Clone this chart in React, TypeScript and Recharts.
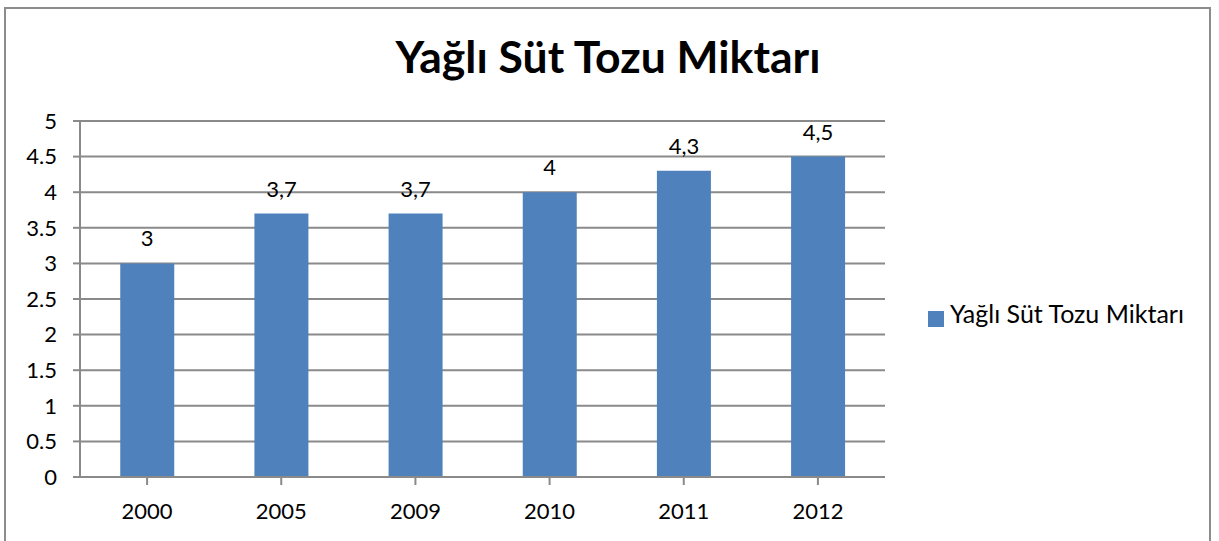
import React from 'react';
import { BarChart, Bar, XAxis, YAxis, CartesianGrid, Legend, LabelList } from 'recharts';

const years = ['2000', '2005', '2009', '2010', '2011', '2012'];
const amounts = [3, 3.7, 3.7, 4, 4.3, 4.5];
const yTicks = [0, 0.5, 1, 1.5, 2, 2.5, 3, 3.5, 4, 4.5, 5];
const seriesName = 'Yağlı Süt Tozu Miktarı';
const title = 'Yağlı Süt Tozu Miktarı';

const data = years.map((y, i) => ({ year: y, value: amounts[i] }));

const FONT = 'Lato, "Open Sans", sans-serif';
const GRID = '#8a8a8a';

export default function App() {
  return (
    <div style={{ position: 'absolute', left: 0, top: 0, width: 1219, height: 541, background: '#fff', overflow: 'hidden', fontFamily: FONT }}>
      <div style={{ position: 'absolute', left: 4, top: 7, width: 1203, height: 560, border: '2px solid #8c8c8c' }} />
      <div style={{ position: 'absolute', left: 0, top: 32, width: 1216, textAlign: 'center', fontSize: 44.5, fontWeight: 700, color: '#000', lineHeight: '48px', whiteSpace: 'nowrap' }}>
        {title}
      </div>
      <div style={{ position: 'absolute', left: 0, top: 0 }}>
        <BarChart width={1219} height={541} data={data} margin={{ top: 121, right: 44, bottom: 0, left: 20 }} barCategoryGap="30%">
          <CartesianGrid vertical={false} stroke={GRID} strokeWidth={2} />
          <XAxis
            dataKey="year"
            height={64}
            tickSize={8}
            tickMargin={18}
            axisLine={{ stroke: GRID, strokeWidth: 2 }}
            tickLine={{ stroke: GRID, strokeWidth: 2 }}
            tick={{ fill: '#000', fontSize: 22, fontFamily: FONT }}
            interval={0}
          />
          <YAxis
            width={60}
            domain={[0, 5]}
            ticks={yTicks}
            interval={0}
            tickSize={7}
            tickMargin={16}
            axisLine={{ stroke: GRID, strokeWidth: 2 }}
            tickLine={{ stroke: GRID, strokeWidth: 2 }}
            tick={{ fill: '#000', fontSize: 22, fontFamily: FONT }}
          />
          <Legend
            layout="vertical"
            align="right"
            verticalAlign="middle"
            iconType="square"
            iconSize={16}
            wrapperStyle={{ position: 'absolute', left: 928, top: 298, width: 290 }}
            formatter={(v: string) => <span style={{ color: '#000', fontSize: 25, fontFamily: FONT, marginLeft: 2 }}>{v}</span>}
          />
          <Bar dataKey="value" name={seriesName} fill="#4f81bd" isAnimationActive={false}>
            <LabelList
              dataKey="value"
              position="top"
              offset={17}
              formatter={(v: number) => String(v).replace('.', ',')}
              style={{ fill: '#000', fontSize: 22, fontFamily: FONT }}
            />
          </Bar>
        </BarChart>
      </div>
    </div>
  );
}
